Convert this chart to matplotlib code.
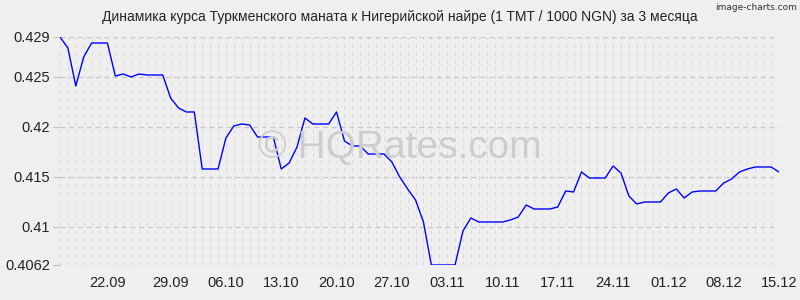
import numpy as np
import matplotlib
import matplotlib.pyplot as plt

matplotlib.use('Agg')

# курс за 1000 NGN в TMT, по дням
rates = [
    0.4290, 0.4279, 0.4241, 0.4270, 0.4284, 0.4284, 0.4284, 0.4251, 0.4253, 0.4250,
    0.4253, 0.4252, 0.4252, 0.4252, 0.4229, 0.4219, 0.4215, 0.4215, 0.4158, 0.4158,
    0.4158, 0.4189, 0.4201, 0.4203, 0.4202, 0.4190, 0.4190, 0.4190, 0.4158, 0.4164,
    0.4180, 0.4209, 0.4203, 0.4203, 0.4203, 0.4215, 0.4186, 0.4181, 0.4181, 0.4173,
    0.4173, 0.4173, 0.4165, 0.4150, 0.4138, 0.4127, 0.4105, 0.4062, 0.4062, 0.4062,
    0.4062, 0.4096, 0.4109, 0.4105, 0.4105, 0.4105, 0.4105, 0.4107, 0.4110, 0.4122,
    0.4118, 0.4118, 0.4118, 0.4120, 0.4136, 0.4135, 0.4155, 0.4149, 0.4149, 0.4149,
    0.4161, 0.4154, 0.4131, 0.4123, 0.4125, 0.4125, 0.4125, 0.4134, 0.4138, 0.4129,
    0.4135, 0.4136, 0.4136, 0.4136, 0.4144, 0.4148, 0.4155, 0.4158, 0.4160, 0.4160,
    0.4160, 0.4155,
]

date_labels = ['22.09', '29.09', '06.10', '13.10', '20.10', '27.10', '03.11',
               '10.11', '17.11', '24.11', '01.12', '08.12', '15.12']
date_idx = [6, 14, 21, 28, 35, 42, 49, 56, 63, 70, 77, 84, 91]

y_ticks = [0.4062, 0.41, 0.415, 0.42, 0.425, 0.429]
y_labels = ['0.4062', '0.41', '0.415', '0.42', '0.425', '0.429']

title = 'Динамика курса Туркменского маната к Нигерийской найре (1 TMT / 1000 NGN) за 3 месяца'

plt.rcParams['font.family'] = ['Liberation Sans', 'DejaVu Sans']

bg = '#efefef'
fig = plt.figure(figsize=(8, 3), dpi=100, facecolor=bg)
ax = fig.add_axes([0.075, 0.1167, 0.89875, 0.76])
ax.set_facecolor(bg)

x = np.arange(len(rates))

# водяной знак
fig.text(0.5, 0.473, '© HQRates.com', fontsize=28, color='#cdcdcd',
         ha='center', va='baseline', zorder=0)

ax.plot(x, rates, color='#0000ff', linewidth=1.0, zorder=3)

ax.set_xlim(0, len(rates) - 1)
ax.set_ylim(y_ticks[0], y_ticks[-1])

ax.set_xticks(date_idx)
ax.set_xticklabels(date_labels)
ax.set_xticks(x, minor=True)
ax.set_yticks(y_ticks)
ax.set_yticklabels(y_labels)

ax.grid(True, which='both', axis='x', color='#d8d8d8', linestyle=(0, (4, 4)), linewidth=0.7)
ax.grid(True, which='major', axis='y', color='#c8c8c8', linestyle=(0, (4, 3)), linewidth=0.9)

for s in ax.spines.values():
    s.set_visible(False)

ax.tick_params(axis='x', which='both', length=0, pad=8, labelsize=10.5, colors='#222222')
ax.tick_params(axis='y', length=5, width=0.8, color='#c0c0c0', pad=2, labelsize=10.5,
               labelcolor='#222222')
ax.set_axisbelow(True)

fig.text(0.5, 0.943, title, ha='center', va='center', fontsize=10, color='#222222')
fig.text(0.996, 0.99, 'image-charts.com', ha='right', va='top', fontsize=6.5,
         color='#333333', family=['Liberation Sans Narrow', 'DejaVu Sans'])

fig.savefig('out.png', dpi=100, facecolor=bg)
plt.close(fig)
